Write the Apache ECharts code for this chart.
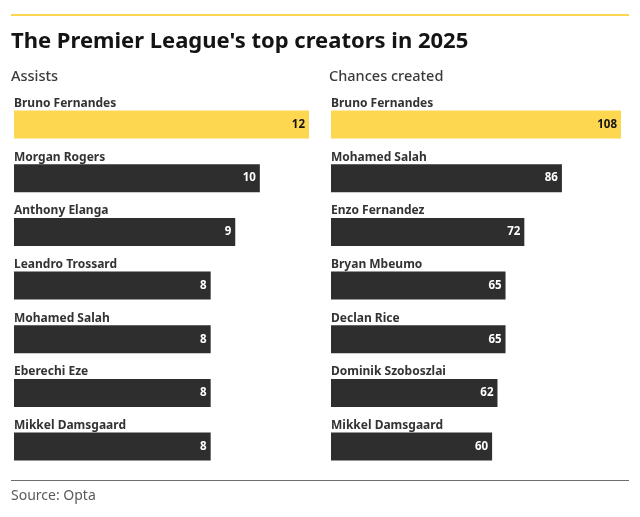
<!DOCTYPE html>
<html>
<head>
<meta charset="utf-8">
<script src="https://cdn.jsdelivr.net/npm/echarts@6/dist/echarts.min.js"></script>
<style>
  html, body { margin: 0; padding: 0; background: #fff; }
  #chart { width: 640px; height: 517px; }
</style>
</head>
<body>
<div id="chart"></div>
<script>
var assistNames = ['Bruno Fernandes', 'Morgan Rogers', 'Anthony Elanga', 'Leandro Trossard', 'Mohamed Salah', 'Eberechi Eze', 'Mikkel Damsgaard'];
var assistValues = [12, 10, 9, 8, 8, 8, 8];
var chanceNames = ['Bruno Fernandes', 'Mohamed Salah', 'Enzo Fernandez', 'Bryan Mbeumo', 'Declan Rice', 'Dominik Szoboszlai', 'Mikkel Damsgaard'];
var chanceValues = [108, 86, 72, 65, 65, 62, 60];

var FONT = 'Noto Sans';
var YELLOW = '#fdd74f';
var DARK = '#2e2e2e';

var chart = echarts.init(document.getElementById('chart'));

function barData(values) {
  return values.map(function (v, i) {
    return {
      value: v,
      itemStyle: { color: i === 0 ? YELLOW : DARK },
      label: { color: i === 0 ? '#141414' : '#ffffff' }
    };
  });
}

function yAxis(names, idx) {
  return {
    type: 'category',
    gridIndex: idx,
    data: names,
    inverse: true,
    axisLine: { show: false },
    axisTick: { show: false },
    axisLabel: {
      inside: true,
      margin: 0,
      align: 'left',
      verticalAlign: 'bottom',
      padding: [0, 0, 15, 0],
      fontFamily: FONT,
      fontSize: 12,
      fontWeight: 'bold',
      color: '#333333'
    }
  };
}

function series(values, idx) {
  return {
    type: 'bar',
    xAxisIndex: idx,
    yAxisIndex: idx,
    barWidth: 28,
    data: barData(values),
    silent: true,
    label: {
      show: true,
      position: 'insideRight',
      distance: 4,
      fontFamily: FONT,
      fontSize: 11.5,
      fontWeight: 'bold'
    }
  };
}

var option = {
  animation: false,
  title: [
    {
      text: "The Premier League's top creators in 2025",
      left: 11, top: 31, padding: 0,
      textStyle: { fontFamily: FONT, fontSize: 22, fontWeight: 'bold', color: '#141414' }
    },
    {
      text: 'Assists',
      left: 11, top: 69, padding: 0,
      textStyle: { fontFamily: FONT, fontSize: 14.5, fontWeight: 500, color: '#3a3a3a' }
    },
    {
      text: 'Chances created',
      left: 329, top: 69, padding: 0,
      textStyle: { fontFamily: FONT, fontSize: 14.5, fontWeight: 500, color: '#3a3a3a' }
    },
    {
      text: 'Source: Opta',
      left: 11, top: 489, padding: 0,
      textStyle: { fontFamily: FONT, fontSize: 14, fontWeight: 'normal', color: '#5a5a5a' }
    }
  ],
  graphic: [
    { type: 'line', shape: { x1: 11, y1: 15, x2: 629, y2: 15 }, style: { stroke: YELLOW, lineWidth: 2 } },
    { type: 'line', shape: { x1: 11, y1: 480.5, x2: 629, y2: 480.5 }, style: { stroke: '#6e6e6e', lineWidth: 1 } }
  ],
  grid: [
    { left: 14, width: 295, top: 97.7, height: 375.7 },
    { left: 331, width: 290, top: 97.7, height: 375.7 }
  ],
  xAxis: [
    { type: 'value', gridIndex: 0, min: 0, max: 12, show: false },
    { type: 'value', gridIndex: 1, min: 0, max: 108, show: false }
  ],
  yAxis: [yAxis(assistNames, 0), yAxis(chanceNames, 1)],
  series: [series(assistValues, 0), series(chanceValues, 1)]
};

chart.setOption(option);
</script>
</body>
</html>
